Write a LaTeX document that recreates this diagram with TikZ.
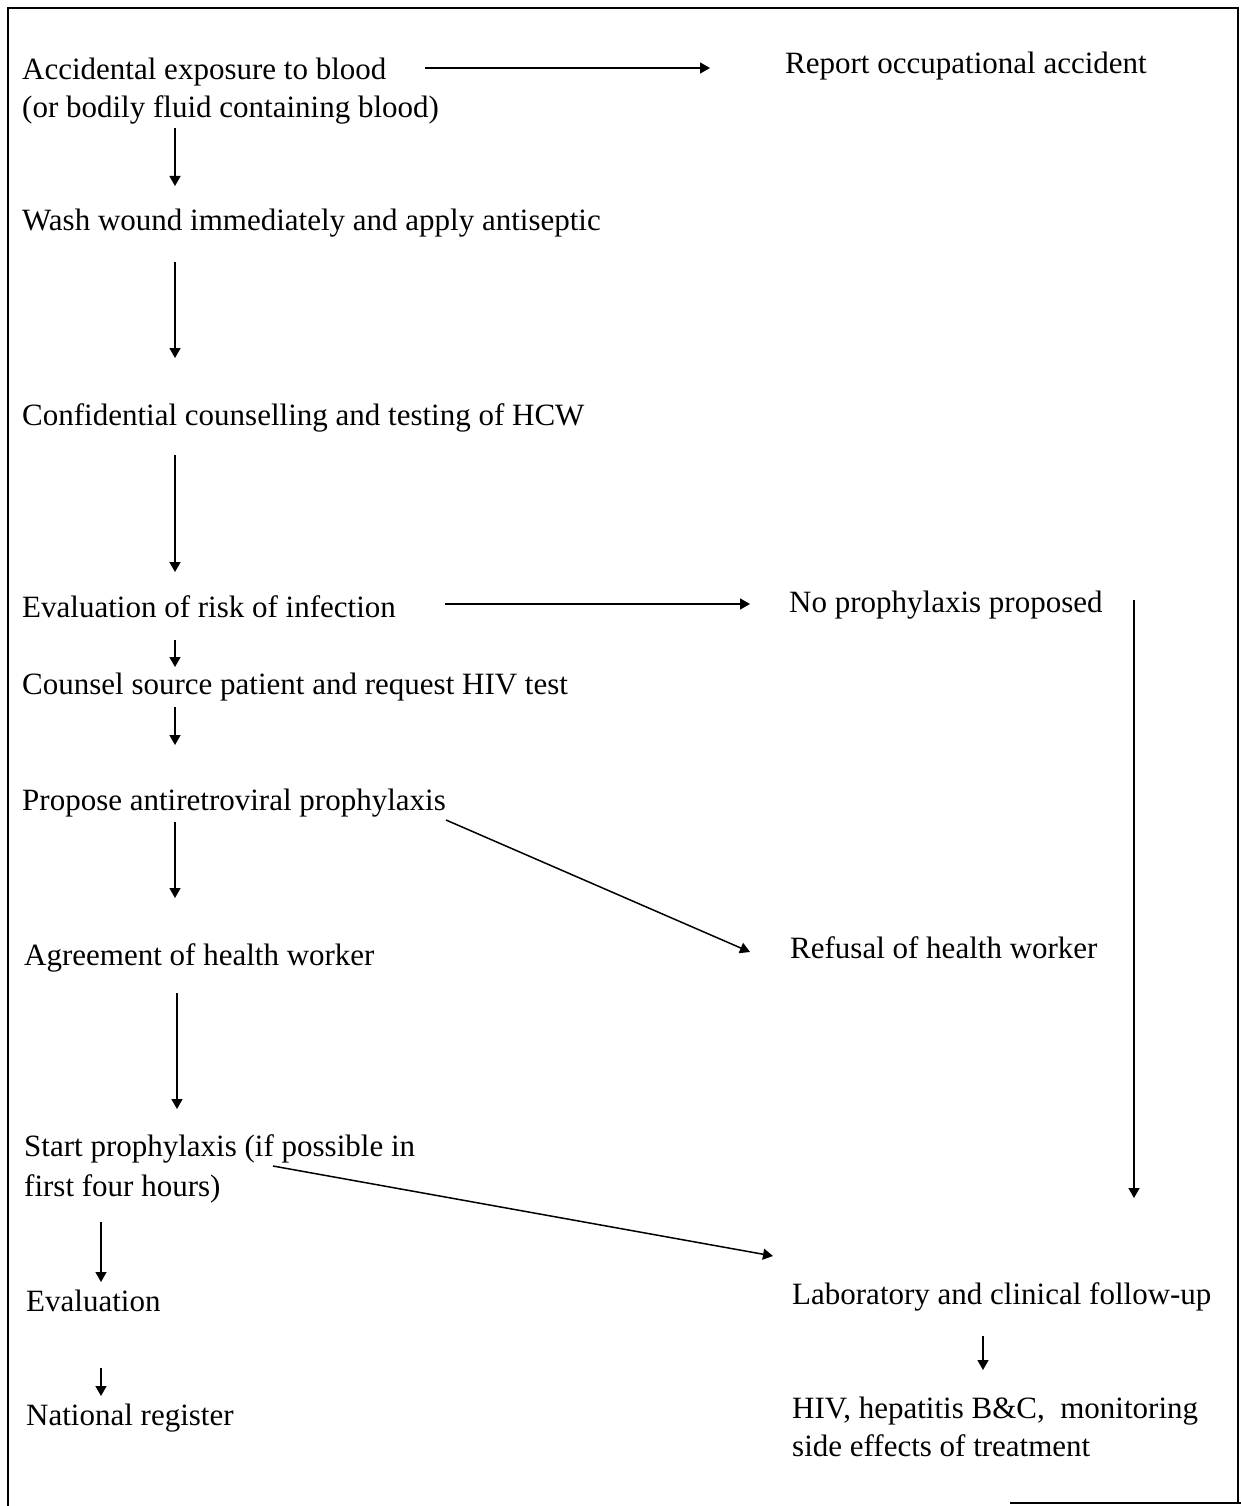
\documentclass[tikz,border=0pt]{standalone}
\usepackage{fontspec}
\setmainfont{Liberation Serif}
\usetikzlibrary{arrows.meta,calc}
\begin{document}
\begin{tikzpicture}[x=1pt,y=-1pt,
  txt/.style={anchor=base west,inner sep=0pt,align=left,font=\fontsize{31pt}{38pt}\selectfont},
  arr/.style={line width=1.5pt,-{Triangle[length=10pt,width=11pt]}},
  frame/.style={line width=1.5pt}]
\useasboundingbox (0,0) rectangle (1241,1506);
% frame
\draw[frame] (8,1506) -- (8,8) -- (1238,8) -- (1238,1503);
\draw[frame] (1010,1503) -- (1241,1503);
% nodes (multi-line nodes are placed by the baseline of their last line)
\node[txt] (n1) at (22,118) {Accidental exposure to blood\\(or bodily fluid containing blood)};
\node[txt] (report) at (785,74) {Report occupational accident};
\node[txt] (wash) at (22,231) {Wash wound immediately and apply antiseptic};
\node[txt] (conf) at (22,425) {Confidential counselling and testing of HCW};
\node[txt] (eval) at (22,617) {Evaluation of risk of infection};
\node[txt] (noproph) at (789,612) {No prophylaxis proposed};
\node[txt] (counsel) at (22,694) {Counsel source patient and request HIV test};
\node[txt] (propose) at (22,810) {Propose antiretroviral prophylaxis};
\node[txt] (agree) at (24,965) {Agreement of health worker};
\node[txt] (refusal) at (790,958) {Refusal of health worker};
\node[txt,font=\fontsize{31pt}{40pt}\selectfont] (start) at (24,1196) {Start prophylaxis (if possible in\\first four hours)};
\node[txt] (evaluation) at (26,1311) {Evaluation};
\node[txt] (national) at (26,1425) {National register};
\node[txt] (lab) at (792,1304) {Laboratory and clinical follow-up};
\node[txt] (hiv) at (792,1456) {HIV, hepatitis B\&C,\ \ monitoring\\side effects of treatment};
% connectors
\draw[arr] ($(n1.base west)+(403,-50)$) -- ($(report.base west)+(-75,-6)$);
\draw[arr] ($(n1.base west)+(153,10)$) -- ($(wash.base west)+(153,-45)$);
\draw[arr] ($(wash.base west)+(153,31)$) -- ($(conf.base west)+(153,-67)$);
\draw[arr] ($(conf.base west)+(153,30)$) -- ($(eval.base west)+(153,-45)$);
\draw[arr] ($(eval.base west)+(423,-13)$) -- ($(noproph.base west)+(-39,-8)$);
\draw[arr] ($(noproph.base west)+(345,-12)$) -- ($(lab.base west)+(342,-106)$);
\draw[arr] ($(eval.base west)+(153,23)$) -- ($(counsel.base west)+(153,-27)$);
\draw[arr] ($(counsel.base west)+(153,13)$) -- ($(propose.base west)+(153,-65)$);
\draw[arr] ($(propose.base west)+(153,12)$) -- ($(agree.base west)+(151,-67)$);
\draw[arr] ($(propose.base west)+(424,10)$) -- ($(refusal.base west)+(-40,-6)$);
\draw[arr] ($(agree.base west)+(153,28)$) -- ($(start.base west)+(153,-87)$);
\draw[arr] ($(start.base west)+(249,-30)$) -- ($(lab.base west)+(-19,-48)$);
\draw[arr] ($(start.base west)+(77,26)$) -- ($(evaluation.base west)+(75,-29)$);
\draw[arr] ($(evaluation.base west)+(75,57)$) -- ($(national.base west)+(75,-29)$);
\draw[arr] ($(lab.base west)+(191,32)$) -- ($(hiv.base west)+(191,-86)$);
\end{tikzpicture}
\end{document}
